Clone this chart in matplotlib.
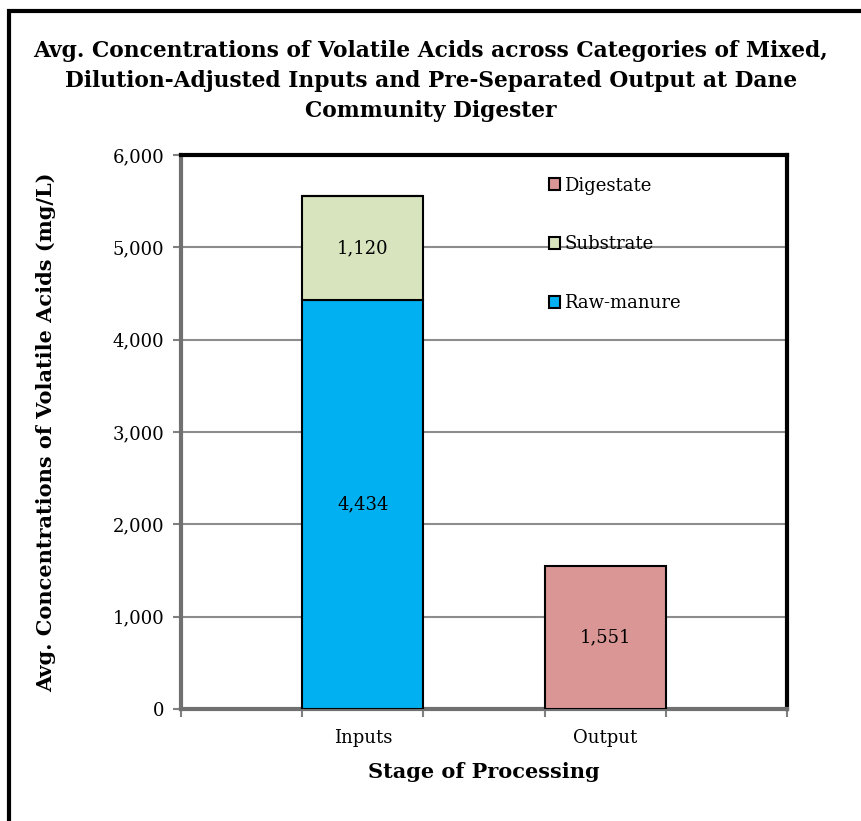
import matplotlib
matplotlib.use("Agg")
import matplotlib.pyplot as plt
from matplotlib.patches import Rectangle, Patch
from matplotlib.ticker import FuncFormatter, FixedLocator
from matplotlib.transforms import blended_transform_factory

plt.rcParams['font.family'] = ['DejaVu Serif']

stages = ["Inputs", "Output"]
raw_manure = [4434, 0]
substrate = [1120, 0]
digestate = [0, 1551]

c_raw = "#00B0F0"
c_sub = "#D7E4BD"
c_dig = "#D99694"

fig = plt.figure(figsize=(8.62, 8.21), dpi=100)
ax = fig.add_axes([181/862, 1 - 709/821, (787 - 181)/862, (709 - 155)/821])

# categories sit at 1.5 and 3.5 on a 0..5 axis, each bar one unit wide
xpos = [1.5, 3.5]
width = 1.0
edge = dict(edgecolor="black", linewidth=1.5, zorder=3)
ax.bar(xpos, raw_manure, width, color=c_raw, **edge)
ax.bar(xpos, substrate, width, bottom=raw_manure, color=c_sub, **edge)
bottoms = [r + s for r, s in zip(raw_manure, substrate)]
ax.bar(xpos, digestate, width, bottom=bottoms, color=c_dig, **edge)

# segment value labels
for i, x in enumerate(xpos):
    base = 0
    for vals in (raw_manure, substrate, digestate):
        v = vals[i]
        if v > 0:
            ax.text(x, base + v / 2, f"{v:,}", ha="center", va="center",
                    fontsize=13, zorder=4)
        base += v

ax.set_xlim(0, 5)
ax.set_ylim(0, 6000)
ax.set_yticks(range(0, 6001, 1000))
ax.yaxis.set_major_formatter(FuncFormatter(lambda v, p: f"{int(v):,}"))
ax.xaxis.set_major_locator(FixedLocator([0, 1, 2, 3, 4, 5]))
ax.xaxis.set_major_formatter(FuncFormatter(lambda v, p: ""))
cat_trans = blended_transform_factory(ax.transData, fig.transFigure)
for x, name in zip(xpos, stages):
    ax.text(x, 1 - 738/821, name, transform=cat_trans,
            ha="center", va="center", fontsize=13, clip_on=False)

ax.grid(axis="y", color="#8c8c8c", linewidth=1.5, zorder=0)
ax.set_axisbelow(True)

for side in ("left", "bottom"):
    ax.spines[side].set_color("#707070")
    ax.spines[side].set_linewidth(3)
for side in ("top", "right"):
    ax.spines[side].set_color("black")
    ax.spines[side].set_linewidth(3)

ax.tick_params(axis="y", length=6, width=1.5, color="#808080",
               labelsize=13, pad=6)
ax.tick_params(axis="x", length=6, width=1.5, color="#808080", pad=2)

fig.text(46/862, 1 - 432/821, "Avg. Concentrations of Volatile Acids (mg/L)",
         rotation=90, ha="center", va="center", fontsize=15,
         fontweight="bold")
fig.text(484/862, 1 - 772/821, "Stage of Processing", ha="center",
         va="center", fontsize=15, fontweight="bold")

fig.text(0.5, 1 - 81/821,
         "Avg. Concentrations of Volatile Acids across Categories of Mixed,\n"
         "Dilution-Adjusted Inputs and Pre-Separated Output at Dane\n"
         "Community Digester",
         ha="center", va="center", fontsize=15.7, fontweight="bold",
         linespacing=1.5)

handles = [Patch(facecolor=c_dig, edgecolor="black", linewidth=1.5),
           Patch(facecolor=c_sub, edgecolor="black", linewidth=1.5),
           Patch(facecolor=c_raw, edgecolor="black", linewidth=1.5)]
leg = ax.legend(handles, ["Digestate", "Substrate", "Raw-manure"],
                loc="upper left", bbox_to_anchor=(0.58, 0.99),
                frameon=False, fontsize=13, handlelength=0.65,
                handleheight=0.65, handletextpad=0.2, labelspacing=2.25)

# outer chart border
fig.patches.append(Rectangle((9.5/862, -0.05), 1.2, 1.05 - 11/821,
                             transform=fig.transFigure, fill=False,
                             edgecolor="black", linewidth=3))

fig.savefig("out.png", dpi=100)
